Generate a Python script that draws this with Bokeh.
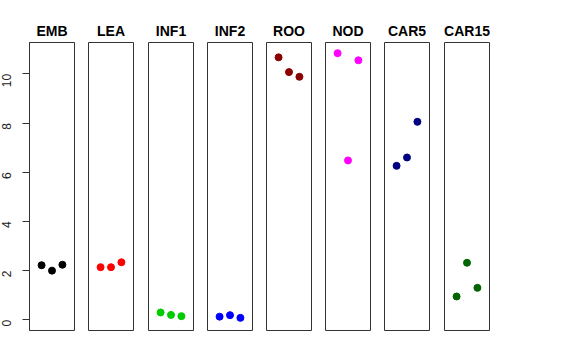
import math
from bokeh.plotting import figure
from bokeh.layouts import row
from bokeh.models import Range1d, FixedTicker
from bokeh.embed import file_html
from bokeh.resources import INLINE

groups = ["EMB", "LEA", "INF1", "INF2", "ROO", "NOD", "CAR5", "CAR15"]
colors = ["black", "red", "#00CD00", "blue", "#8B0000", "magenta", "#000080", "#006400"]
reps = [1, 2, 3]

emb = [2.22, 2.00, 2.24]
lea = [2.14, 2.14, 2.34]
inf1 = [0.30, 0.20, 0.15]
inf2 = [0.13, 0.19, 0.08]
roo = [10.67, 10.07, 9.88]
nod = [10.84, 6.48, 10.55]
car5 = [6.26, 6.60, 8.05]
car15 = [0.95, 2.32, 1.30]
values = [emb, lea, inf1, inf2, roo, nod, car5, car15]

y_ticks = [0, 2, 4, 6, 8, 10]

lo = 0.0
hi = max(max(v) for v in values)
pad = 0.04 * (hi - lo)
xlo, xhi = 0, 4
xpad = 0.04 * (xhi - xlo)

FONT = "Liberation Sans"
figs = []
extra_right = [0, 1, 0, 0, 0, 0, 1, 0]
for i, (g, c, v) in enumerate(zip(groups, colors, values)):
    first = i == 0
    p = figure(
        frame_width=45, frame_height=288,
        x_range=Range1d(xlo - xpad, xhi + xpad),
        y_range=Range1d(lo - pad, hi + pad),
        x_axis_location=None,
        y_axis_location="left" if first else None,
        toolbar_location=None, output_backend="svg",
        min_border_left=28 if first else 7,
        min_border_right=7 + extra_right[i],
        min_border_top=42, min_border_bottom=5,
        title=g,
    )
    p.title.align = "center"
    p.title.text_font = FONT
    p.title.text_font_size = "14px"
    p.title.text_font_style = "bold"
    p.title.text_color = "black"
    p.title.standoff = 7
    p.outline_line_color = "#333333"
    p.outline_line_width = 1
    p.outline_line_alpha = 1
    p.background_fill_color = "white"
    p.border_fill_color = "white"
    p.xgrid.visible = False
    p.ygrid.visible = False
    if first:
        ax = p.yaxis[0]
        ax.ticker = FixedTicker(ticks=y_ticks)
        ax.major_label_orientation = math.pi / 2
        ax.major_label_text_font = FONT
        ax.major_label_text_font_size = "12px"
        ax.major_label_text_color = "#222222"
        ax.major_tick_in = 0
        ax.major_tick_out = 7
        ax.minor_tick_out = 0
        ax.minor_tick_in = 0
        ax.major_label_standoff = 16
        ax.axis_line_color = "#333333"
        ax.major_tick_line_color = "#333333"
        p.styles = {"margin-left": "-6px"}
    p.scatter(x=reps, y=v, size=7, color=c, line_color=c)
    figs.append(p)

layout = row(*figs, spacing=0)
open("out.html", "w").write(file_html(layout, INLINE))
